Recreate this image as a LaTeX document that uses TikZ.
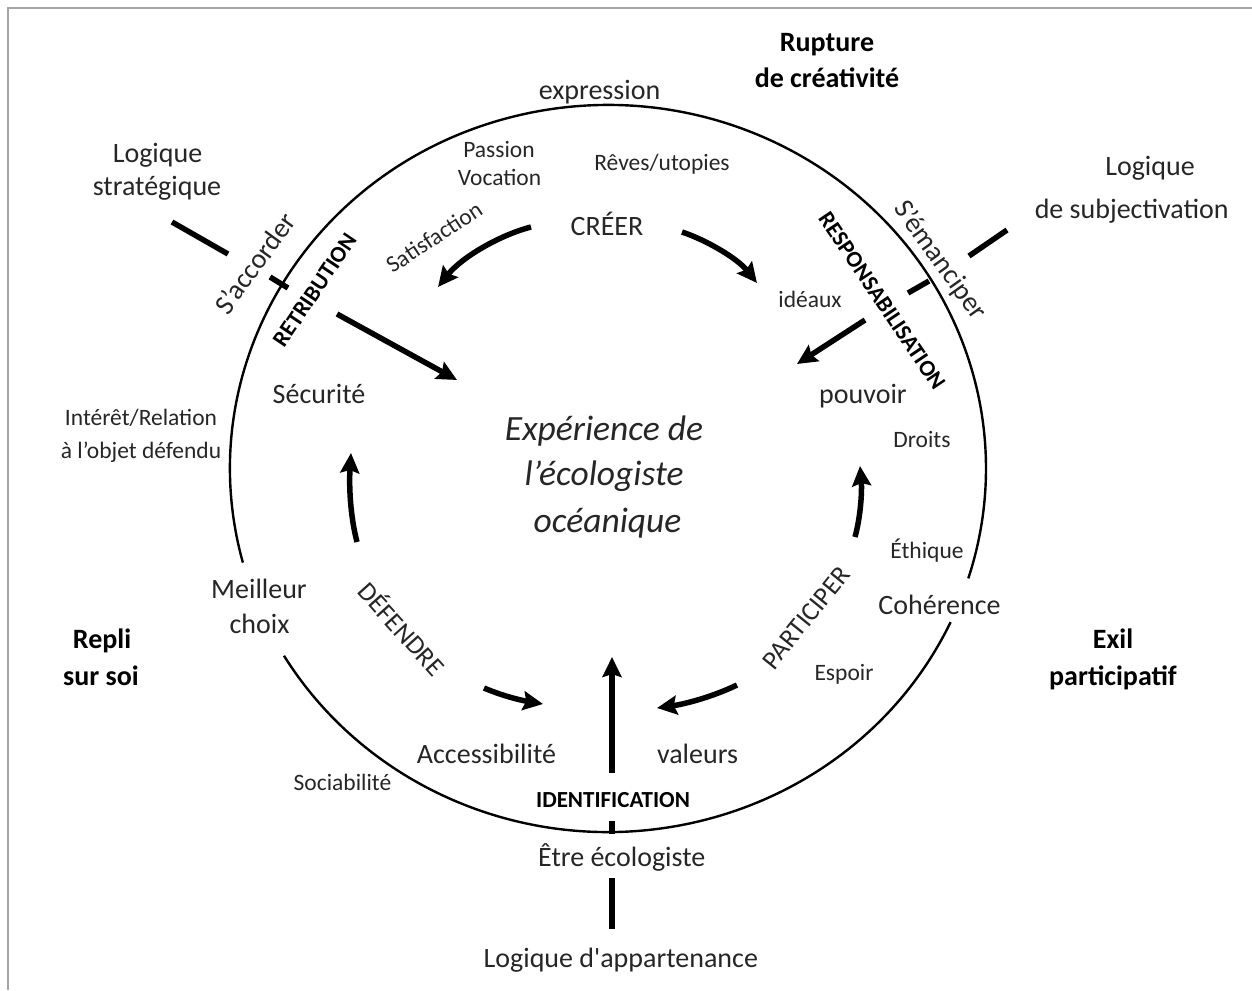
\documentclass[tikz,border=0pt]{standalone}
\usepackage{fontspec}
\setmainfont{Carlito}
\usetikzlibrary{arrows.meta}
\definecolor{txt}{HTML}{262626}
\definecolor{framecol}{HTML}{A6A6A6}
\tikzset{
  lbl/.style={text=txt, font=\fontsize{28}{32}\selectfont, inner sep=0pt},
  sm/.style={text=txt, font=\fontsize{23.5}{28}\selectfont, inner sep=0pt},
  caps/.style={text=txt, font=\fontsize{26.5}{30}\selectfont, inner sep=0pt},
  bld/.style={text=black, font=\bfseries\fontsize{28}{34}\selectfont, inner sep=0pt},
  sbld/.style={text=black, font=\bfseries\fontsize{23}{28}\selectfont, inner sep=0pt},
  ital/.style={text=txt, font=\itshape\fontsize{35.5}{40}\selectfont, inner sep=0pt},
  ring/.style={line width=2.4pt},
  bar/.style={line width=5.5pt},
  flow/.style={line width=5.5pt, -{Stealth[length=20pt,width=19pt,inset=3pt]}},
  framed/.style={draw=framecol, line width=1.5pt}
}
\begin{document}
\begin{tikzpicture}[x=1pt,y=-1pt]
\useasboundingbox (0,0) rectangle (1252,990);
% frame
\draw[framed] (8,990) -- (8,8) -- (1252,8);

% ring with two gaps
\coordinate (C) at (608,468.5);
\draw[ring] (C) ++(165:378 and 363.5) arc[start angle=165, end angle=377.6, x radius=378, y radius=363.5];
\draw[ring] (C) ++(25:378 and 363.5) arc[start angle=25, end angle=149, x radius=378, y radius=363.5];

% coordinates for bars and arrows
\coordinate (sL1) at (172,222); \coordinate (sL2) at (228,254);
\coordinate (tL1) at (270,277); \coordinate (tL2) at (288,288);
\coordinate (rA) at (337,314);  \coordinate (rB) at (457,380);
\coordinate (sR1) at (969,256); \coordinate (sR2) at (1007,230);
\coordinate (tR1) at (908,293); \coordinate (tR2) at (929,281);
\coordinate (pA) at (865,320);  \coordinate (pB) at (797,364);
\coordinate (iA) at (612,773);  \coordinate (iB) at (612,657);
\coordinate (iT1) at (612,821); \coordinate (iT2) at (612,834);
\coordinate (iL1) at (612,878); \coordinate (iL2) at (612,929);
\coordinate (cL1) at (531,227); \coordinate (cL2) at (438,287);
\coordinate (cR1) at (682,232); \coordinate (cR2) at (757,283);
\coordinate (dU1) at (357,542); \coordinate (dU2) at (351,453);
\coordinate (dB1) at (484,688); \coordinate (dB2) at (543,704);
\coordinate (qB1) at (737,685); \coordinate (qB2) at (657,708);
\coordinate (qU1) at (855,537); \coordinate (qU2) at (860,466);

% straight bars and radial arrows
\draw[bar] (sL1) -- (sL2);
\draw[bar] (tL1) -- (tL2);
\draw[flow] (rA) -- (rB);
\draw[bar] (sR1) -- (sR2);
\draw[bar] (tR1) -- (tR2);
\draw[flow] (pA) -- (pB);
\draw[flow] (iA) -- (iB);
\draw[bar] (iT1) -- (iT2);
\draw[bar] (iL1) -- (iL2);

% curved arrows
\draw[flow] (cL1) .. controls (500,235) and (462,257) .. (cL2);
\draw[flow] (cR1) .. controls (706,240) and (737,258) .. (cR2);
\draw[flow] (dU1) .. controls (350,515) and (349,485) .. (dU2);
\draw[flow] (dB1) .. controls (505,697) and (525,701) .. (dB2);
\draw[flow] (qB1) .. controls (712,697) and (685,704) .. (qB2);
\draw[flow] (qU1) .. controls (861,515) and (862,490) .. (qU2);

% texts
\node[bld, anchor=base] (rup1) at (827,52) {Rupture};
\node[bld, anchor=base] (rup2) at (827,87) {de créativité};
\node[lbl, anchor=base] (expr) at (599.5,99) {expression};
\node[sm, anchor=base] (pass) at (499,157) {Passion};
\node[sm, anchor=base] (voc) at (499.5,185) {Vocation};
\node[sm, anchor=base] (reves) at (662,170) {Rêves/utopies};
\node[lbl, anchor=base] (creer) at (607,235) {CRÉER};
\node[sm, rotate=33.5] (satis) at (434,237) {Satisfaction};
\node[sm, anchor=base] (ideaux) at (810,307) {idéaux};
\node[sbld, rotate=-56] (respo) at (882,301) {RESPONSABILISATION};
\node[lbl, rotate=-54.5] (emanc) at (940,261) {S’émanciper};
\node[lbl, anchor=base] (logL1) at (157.5,162) {Logique};
\node[lbl, anchor=base] (logL2) at (157,195) {stratégique};
\node[lbl, rotate=54] (accord) at (255,263) {S’accorder};
\node[sbld, rotate=56] (retri) at (315,290) {RETRIBUTION};
\node[lbl, anchor=base] (secu) at (319,403) {Sécurité};
\node[sm, anchor=base] (inter1) at (141,425) {Intérêt/Relation};
\node[sm, anchor=base] (inter2) at (141,458) {à l’objet défendu};
\node[lbl, anchor=base] (meil1) at (259,598) {Meilleur};
\node[lbl, anchor=base] (meil2) at (259.5,633) {choix};
\node[bld, anchor=base] (repli1) at (102,648) {Repli};
\node[bld, anchor=base] (repli2) at (101,685) {sur soi};
\node[caps, rotate=-48] (defen) at (403,628) {DÉFENDRE};
\node[ital, anchor=base] (exp1) at (604,440) {Expérience de};
\node[ital, anchor=base] (exp2) at (604,485) {l’écologiste};
\node[ital, anchor=base] (exp3) at (607.5,532) {océanique};
\node[lbl, anchor=base] (pouv) at (863,403) {pouvoir};
\node[sm, anchor=base] (droits) at (922,447) {Droits};
\node[sm, anchor=base] (ethi) at (927,558) {Éthique};
\node[lbl, anchor=base] (coher) at (939.5,614) {Cohérence};
\node[bld, anchor=base] (exil1) at (1113,648) {Exil};
\node[bld, anchor=base] (exil2) at (1113,685) {participatif};
\node[caps, rotate=51] (partic) at (806,618) {PARTICIPER};
\node[sm, anchor=base] (espoir) at (844,680) {Espoir};
\node[lbl, anchor=base] (access) at (486.5,763) {Accessibilité};
\node[lbl, anchor=base] (val) at (697.5,763) {valeurs};
\node[sbld, anchor=base] (ident) at (613,807) {IDENTIFICATION};
\node[lbl, anchor=base] (etre) at (621.7,866) {Être écologiste};
\node[lbl, anchor=base] (logApp) at (620.8,967) {Logique d\textquotesingle appartenance};
\node[sm, anchor=base] (socia) at (342.5,790) {Sociabilité};
\node[lbl, anchor=base] (logR1) at (1150,175) {Logique};
\node[lbl, anchor=base] (logR2) at (1131.7,218) {de subjectivation};
\end{tikzpicture}
\end{document}
